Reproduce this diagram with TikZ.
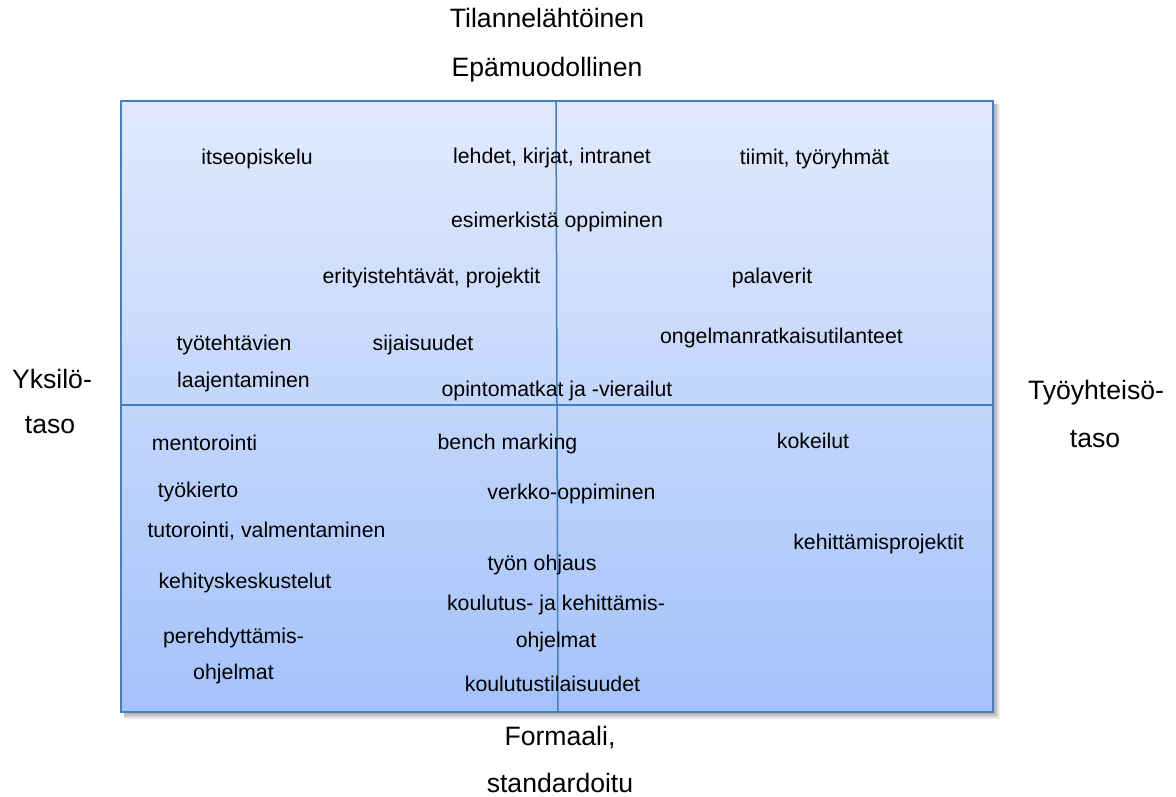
\documentclass[tikz,border=0pt]{standalone}
\usepackage{fontspec}
\setmainfont{Liberation Sans}
\definecolor{framebd}{HTML}{4A7EBB}
\definecolor{gradtop}{HTML}{E1EAFD}
\definecolor{gradbot}{HTML}{A4C2FA}
\tikzset{
  panel/.style={draw=framebd, line width=1.5pt, top color=gradtop, bottom color=gradbot,
    inner sep=0pt, minimum width=872pt, minimum height=611pt},
  softshadow/.style={fill=black, opacity=0.06},
  divider/.style={draw=framebd, line width=1.5pt},
  item/.style={anchor=base, inner sep=0pt, font=\fontsize{21.3}{25}\selectfont},
  axislbl/.style={anchor=base, inner sep=0pt, font=\fontsize{26.6}{30}\selectfont},
}
\begin{document}
\begin{tikzpicture}[x=1pt,y=-1pt]
\useasboundingbox (0,0) rectangle (1176,796);

% soft shadow below and right of the panel
\foreach \d in {1,...,7}{
  \fill[softshadow] (124,104) rectangle ({993+\d},{712+\d});
}

% framed panel with its two dividing lines
\node[panel] (panel) at (557,406.5) {};
\draw[divider] (556,101) -- (558,712);
\draw[divider] (121,405) -- (993,405);

% axis captions
\node[axislbl] (top1) at (547,27) {Tilannelähtöinen};
\node[axislbl] (top2) at (547,76) {Epämuodollinen};
\node[axislbl] (bot1) at (560,745) {Formaali,};
\node[axislbl] (bot2) at (560,792) {standardoitu};
\node[axislbl] (left1) at (52,388) {Yksilö-};
\node[axislbl] (left2) at (50,433) {taso};
\node[axislbl] (right1) at (1096,399) {Työyhteisö-};
\node[axislbl] (right2) at (1095,447) {taso};

% upper half
\node[item] (itse) at (257,164) {itseopiskelu};
\node[item] (lehdet) at (552,163) {lehdet, kirjat, intranet};
\node[item] (tiimit) at (814.5,164) {tiimit, työryhmät};
\node[item] (esim) at (557,227) {esimerkistä oppiminen};
\node[item] (erit) at (431.5,283) {erityistehtävät, projektit};
\node[item] (pala) at (772,283) {palaverit};
\node[item] (tyot1) at (234,350) {työtehtävien};
\node[item] (tyot2) at (243.5,387) {laajentaminen};
\node[item] (sija) at (423,350) {sijaisuudet};
\node[item] (ongel) at (781.5,343) {ongelmanratkaisutilanteet};
\node[item] (opinto) at (557,396) {opintomatkat ja -vierailut};

% lower half
\node[item] (mento) at (204.5,450) {mentorointi};
\node[item] (bench) at (507.5,449) {bench marking};
\node[item] (kokeil) at (813,448) {kokeilut};
\node[item] (kierto) at (198,497) {työkierto};
\node[item] (verkko) at (571.5,499) {verkko-oppiminen};
\node[item] (tutor) at (266.5,537) {tutorointi, valmentaminen};
\node[item] (kehproj) at (878.5,549) {kehittämisprojektit};
\node[item] (ohjaus) at (542,570) {työn ohjaus};
\node[item] (kehkesk) at (245,588) {kehityskeskustelut};
\node[item] (koul1) at (556,610) {koulutus- ja kehittämis-};
\node[item] (koul2) at (556,647) {ohjelmat};
\node[item] (pere1) at (233.5,643) {perehdyttämis-};
\node[item] (pere2) at (233.5,679) {ohjelmat};
\node[item] (tilais) at (552.5,691) {koulutustilaisuudet};
\end{tikzpicture}
\end{document}
